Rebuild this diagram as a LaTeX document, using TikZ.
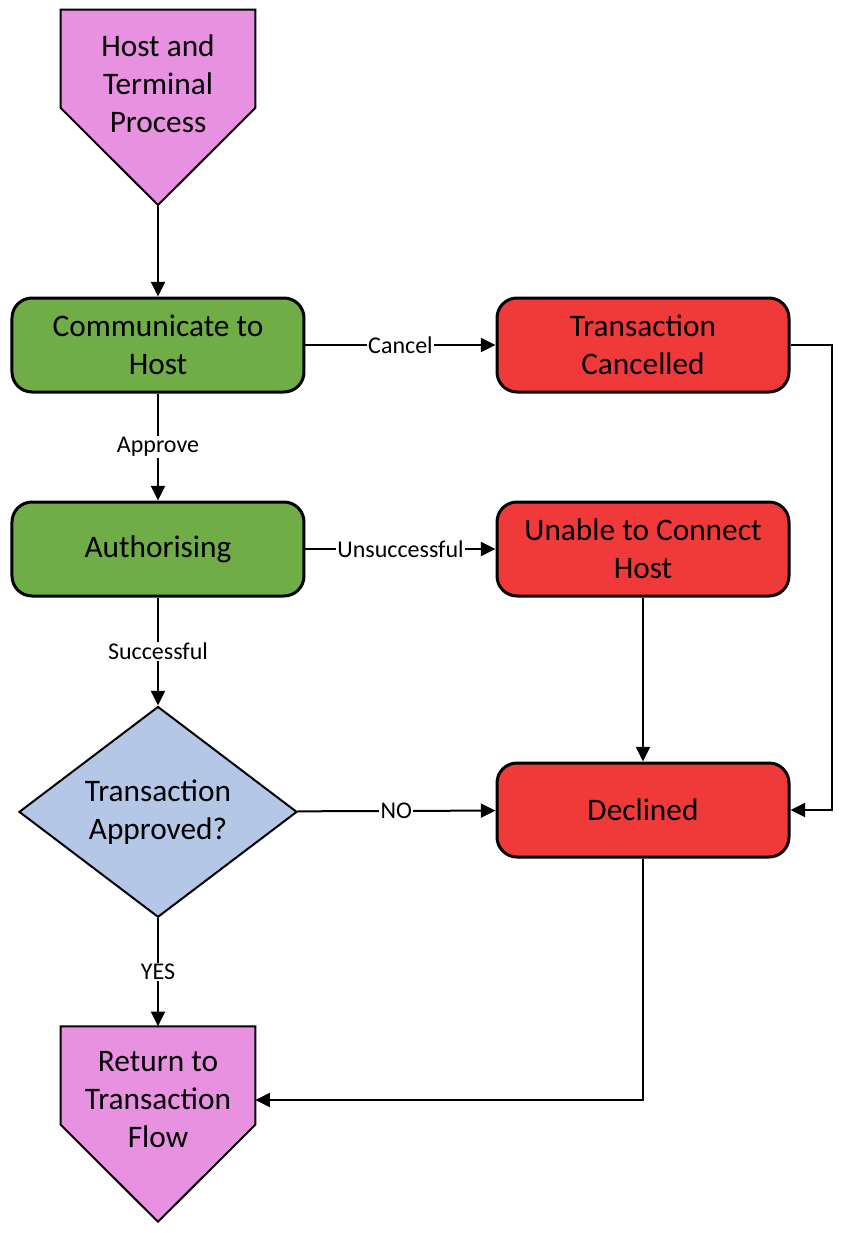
\documentclass[tikz,border=0pt]{standalone}
\usepackage{fontspec}
\setmainfont{Carlito}
\usepackage{tikz}
\usetikzlibrary{shapes.geometric, arrows.meta, positioning}
\definecolor{offpage}{RGB}{232,145,224}
\definecolor{procgreen}{RGB}{112,173,71}
\definecolor{failred}{RGB}{240,58,58}
\definecolor{decblue}{RGB}{180,199,231}

\begin{document}
\begin{tikzpicture}[
    node distance=80.25pt and 142.5pt,
    txt/.style={align=center, font=\fontsize{23.5pt}{28.5pt}\selectfont},
    block/.style={rectangle, draw, line width=2.25pt, rounded corners=15pt, minimum height=70.5pt, minimum width=219pt, txt},
    blockG/.style={block, fill=procgreen},
    blockR/.style={block, fill=failred},
    offbox/.style={rectangle, inner sep=0pt, minimum width=145.5pt, minimum height=146.25pt},
    offline/.style={draw, line width=1.5pt, fill=offpage},
    offtxt/.style={txt, inner sep=0pt, yshift=18pt},
    dec/.style={diamond, draw, line width=1.5pt, fill=decblue, minimum width=208.5pt, minimum height=154.5pt, inner sep=0pt, txt},
    arr/.style={-{Triangle[length=11pt, width=10.5pt]}, line width=1.5pt},
    lbl/.style={font=\fontsize{18pt}{20pt}\selectfont, fill=white, inner sep=1pt}
]
\useasboundingbox (-118.5pt,-666pt) rectangle (513pt,258.75pt);

% Host side
\node[blockG] (comm) at (0,0) {Communicate to\\Host};
\node[offbox, above=68.6pt of comm] (start) {};
\draw[offline] (start.north west) -- (start.north east) -- ([yshift=72.75pt]start.south east)
    -- (start.south) -- ([yshift=72.75pt]start.south west) -- cycle;
\node[offtxt] (starttxt) at (start.center) {Host and\\Terminal\\Process};
\node[blockG, below=of comm] (auth) {Authorising};
\node[dec, below=81pt of auth] (approved) {Transaction\\Approved?};
\node[offbox, below=81pt of approved] (back) {};
\draw[offline] (back.north west) -- (back.north east) -- ([yshift=72.75pt]back.south east)
    -- (back.south) -- ([yshift=72.75pt]back.south west) -- cycle;
\node[offtxt] (backtxt) at (back.center) {Return to\\Transaction\\Flow};

% Failure side
\node[blockR, right=of comm] (cancelled) {Transaction\\Cancelled};
\node[blockR, right=of auth] (noconn) {Unable to Connect\\Host};
\node[blockR, below=123pt of noconn] (declined) {Declined};

% Arrows
\draw[arr] (start.south) -- (comm);
\draw[arr] (comm) -- (cancelled) node[midway, lbl] {Cancel};
\draw[arr] (comm) -- (auth) node[midway, lbl] {Approve};
\draw[arr] (auth) -- (noconn) node[midway, lbl] {Unsuccessful};
\draw[arr] (auth) -- (approved) node[midway, lbl] {Successful};
\draw[arr] (approved) -- (declined) node[midway, lbl] {NO};
\draw[arr] (approved) -- (back) node[midway, lbl] {YES};
\draw[arr] (noconn) -- (declined);
\draw[arr] (cancelled.east) -- ++(30.75pt,0) |- (declined.east);
\draw[arr] (declined.south) |- (back.east |- backtxt);

\end{tikzpicture}
\end{document}
